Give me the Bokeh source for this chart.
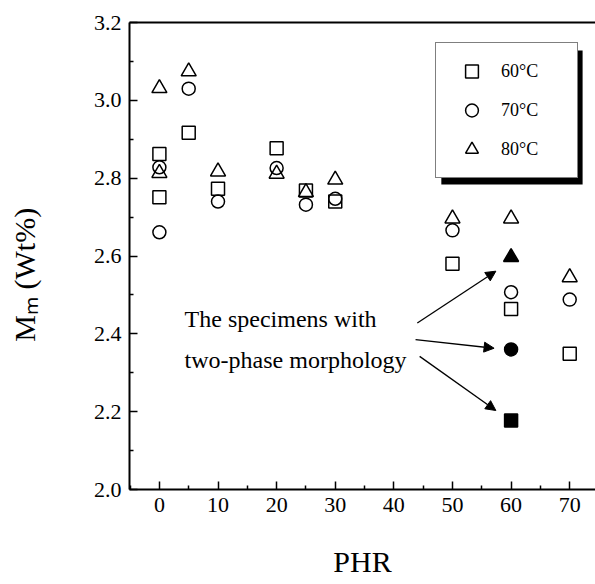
import math
from bokeh.plotting import figure
from bokeh.models import (Range1d, FixedTicker, LinearAxis, Legend, LegendItem,
                          Label, Arrow, NormalHead, BoxAnnotation, PrintfTickFormatter)
from bokeh.embed import file_html
from bokeh.resources import INLINE

# ---- data ----
phr_60 = [0, 0, 5, 10, 20, 25, 30, 50, 60, 70]
mn_60 = [2.862, 2.751, 2.917, 2.773, 2.877, 2.768, 2.740, 2.580, 2.464, 2.349]
phr_70 = [0, 0, 5, 10, 20, 25, 30, 50, 60, 70]
mn_70 = [2.828, 2.661, 3.030, 2.740, 2.826, 2.732, 2.747, 2.666, 2.507, 2.488]
phr_80 = [0, 0, 5, 10, 20, 25, 30, 50, 60, 70]
mn_80 = [3.031, 2.813, 3.074, 2.817, 2.811, 2.764, 2.796, 2.696, 2.696, 2.545]
# specimens with two-phase morphology (filled symbols)
phr_2p = [60]
mn_2p_60 = [2.177]
mn_2p_70 = [2.360]
mn_2p_80 = [2.597]

x_ticks = [0, 10, 20, 30, 40, 50, 60, 70]
x_minor = [-5, 5, 15, 25, 35, 45, 55, 65, 75]
y_ticks = [2.0, 2.2, 2.4, 2.6, 2.8, 3.0, 3.2]
y_minor = [2.1, 2.3, 2.5, 2.7, 2.9, 3.1]
legend_labels = ["60\u00b0C", "70\u00b0C", "80\u00b0C"]
x_title = "PHR"
y_title = "M\u2098 (Wt%)"

FONT = "Liberation Serif"

p = figure(width=595, height=584, output_backend="svg", toolbar_location=None,
           x_range=Range1d(-5.1, 74.4), y_range=Range1d(2.0, 3.2),
           min_border_left=129, min_border_right=0, min_border_top=22, min_border_bottom=95)
p.grid.visible = False
p.outline_line_color = None
p.background_fill_color = "white"
p.border_fill_color = "white"

for ax in (p.xaxis[0], p.yaxis[0]):
    ax.axis_line_width = 2
    ax.axis_line_color = "black"
    ax.major_tick_in = 8
    ax.major_tick_out = 0
    ax.minor_tick_in = 4
    ax.minor_tick_out = 0
    ax.major_tick_line_width = 1.5
    ax.minor_tick_line_width = 1.5
    ax.major_tick_line_color = "black"
    ax.minor_tick_line_color = "black"
    ax.major_label_text_font = FONT
    ax.major_label_text_font_size = "22px"
    ax.major_label_text_color = "black"
    ax.axis_label_text_font = FONT
    ax.axis_label_text_font_style = "normal"
    ax.axis_label_text_color = "black"
    ax.axis_label_text_font_size = "30px"

p.xaxis[0].ticker = FixedTicker(ticks=x_ticks, minor_ticks=x_minor)
p.yaxis[0].ticker = FixedTicker(ticks=y_ticks, minor_ticks=y_minor)
p.yaxis[0].formatter = PrintfTickFormatter(format="%.1f")
p.xaxis[0].major_label_standoff = 8
p.yaxis[0].major_label_standoff = 8
p.xaxis[0].axis_label = x_title
p.xaxis[0].axis_label_standoff = 30
# trailing no-break spaces nudge the centred title slightly downward, as in the original
p.yaxis[0].axis_label = y_title + "\u00a0" * 5
p.yaxis[0].axis_label_standoff = 50

# top frame line
top = LinearAxis(ticker=FixedTicker(ticks=[]), major_label_text_font_size="0px",
                 axis_line_width=2, major_tick_line_color=None, minor_tick_line_color=None)
p.add_layout(top, "above")

LW = 1.5
r60 = p.scatter(phr_60, mn_60, marker="square", size=13, fill_color=None,
                line_color="black", line_width=LW)
r70 = p.scatter(phr_70, mn_70, marker="circle", size=13, fill_color=None,
                line_color="black", line_width=LW)
r80 = p.scatter(phr_80, mn_80, marker="triangle", size=15, fill_color=None,
                line_color="black", line_width=LW)
p.scatter(phr_2p, mn_2p_60, marker="square", size=13, fill_color="black",
          line_color="black", line_width=LW)
p.scatter(phr_2p, mn_2p_70, marker="circle", size=13, fill_color="black",
          line_color="black", line_width=LW)
p.scatter(phr_2p, mn_2p_80, marker="triangle", size=15, fill_color="black",
          line_color="black", line_width=LW)

# legend shadow + legend
shadow = BoxAnnotation(left=48.1, right=72.2, top=3.128, bottom=2.784,
                       fill_color="black", fill_alpha=1, line_color=None)
p.add_layout(shadow)
legend = Legend(items=[LegendItem(label=legend_labels[0], renderers=[r60]),
                       LegendItem(label=legend_labels[1], renderers=[r70]),
                       LegendItem(label=legend_labels[2], renderers=[r80])],
                location=(306, 311), padding=12, spacing=7, glyph_width=47,
                glyph_height=32, label_height=32, label_standoff=6, label_width=64,
                label_text_font=FONT, label_text_font_size="18px",
                label_text_color="black",
                border_line_color="black", border_line_width=1.5,
                background_fill_color="white", background_fill_alpha=1, margin=0)
p.add_layout(legend, "center")

# annotation text and arrows
for (yy, txt) in [(2.439, "The specimens with"), (2.334, "two-phase morphology")]:
    p.add_layout(Label(x=4.3, y=yy, text=txt, text_font=FONT, text_color="black",
                       text_font_size="24px", text_baseline="middle", text_align="left"))
for (xs, ys, xe, ye) in [(44.0, 2.428, 57.4, 2.561),
                         (43.7, 2.385, 57.1, 2.363),
                         (44.4, 2.342, 57.4, 2.203)]:
    p.add_layout(Arrow(x_start=xs, y_start=ys, x_end=xe, y_end=ye, line_width=1.3,
                       line_color="black",
                       end=NormalHead(size=10, fill_color="black", line_color="black",
                                      line_width=1)))

open("out.html", "w").write(file_html(p, INLINE))
